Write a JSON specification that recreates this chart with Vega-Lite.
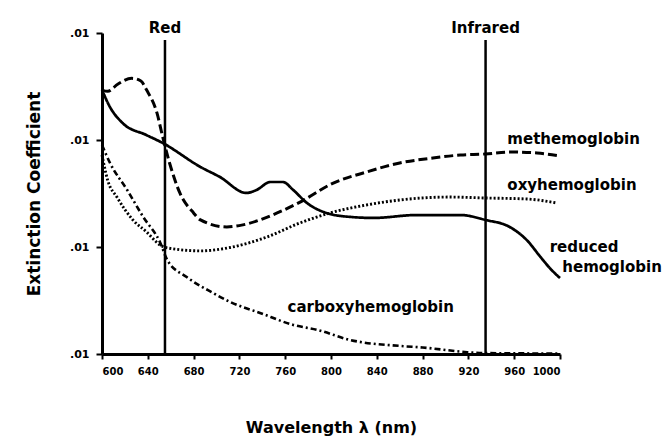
{
  "$schema": "https://vega.github.io/schema/vega-lite/v6.json",
  "width": 458,
  "height": 321,
  "autosize": {"type": "none"},
  "padding": {"left": 102, "top": 33, "right": 109, "bottom": 94},
  "background": "white",
  "config": {
    "view": {"stroke": null},
    "axis": {
      "grid": false,
      "labelFont": "DejaVu Sans", "labelFontWeight": "bold", "labelFontSize": 11, "labelColor": "#000",
      "titleFont": "DejaVu Sans", "titleFontWeight": "bold", "titleColor": "#000",
      "domainColor": "#000", "domainWidth": 3, "tickColor": "#000", "tickWidth": 2
    }
  },
  "datasets": {
    "curves": [
      {"s": "methemoglobin", "nm": 600, "v": 2.93},
      {"s": "methemoglobin", "nm": 605, "v": 2.85},
      {"s": "methemoglobin", "nm": 614, "v": 3.34},
      {"s": "methemoglobin", "nm": 626, "v": 3.77},
      {"s": "methemoglobin", "nm": 634, "v": 3.56},
      {"s": "methemoglobin", "nm": 639, "v": 2.93},
      {"s": "methemoglobin", "nm": 648, "v": 1.79},
      {"s": "methemoglobin", "nm": 653, "v": 1.07},
      {"s": "methemoglobin", "nm": 659, "v": 0.61},
      {"s": "methemoglobin", "nm": 668, "v": 0.32},
      {"s": "methemoglobin", "nm": 680, "v": 0.208},
      {"s": "methemoglobin", "nm": 686, "v": 0.179},
      {"s": "methemoglobin", "nm": 709, "v": 0.154},
      {"s": "methemoglobin", "nm": 723, "v": 0.161},
      {"s": "methemoglobin", "nm": 753, "v": 0.208},
      {"s": "methemoglobin", "nm": 773, "v": 0.263},
      {"s": "methemoglobin", "nm": 802, "v": 0.396},
      {"s": "methemoglobin", "nm": 831, "v": 0.502},
      {"s": "methemoglobin", "nm": 860, "v": 0.61},
      {"s": "methemoglobin", "nm": 889, "v": 0.679},
      {"s": "methemoglobin", "nm": 913, "v": 0.724},
      {"s": "methemoglobin", "nm": 935, "v": 0.74},
      {"s": "methemoglobin", "nm": 956, "v": 0.772},
      {"s": "methemoglobin", "nm": 980, "v": 0.756},
      {"s": "methemoglobin", "nm": 1000, "v": 0.709},
      {"s": "reduced hemoglobin", "nm": 600, "v": 2.93},
      {"s": "reduced hemoglobin", "nm": 607, "v": 2.03},
      {"s": "reduced hemoglobin", "nm": 618, "v": 1.44},
      {"s": "reduced hemoglobin", "nm": 639, "v": 1.11},
      {"s": "reduced hemoglobin", "nm": 653, "v": 0.938},
      {"s": "reduced hemoglobin", "nm": 686, "v": 0.56},
      {"s": "reduced hemoglobin", "nm": 703, "v": 0.451},
      {"s": "reduced hemoglobin", "nm": 726, "v": 0.32},
      {"s": "reduced hemoglobin", "nm": 735, "v": 0.341},
      {"s": "reduced hemoglobin", "nm": 747, "v": 0.405},
      {"s": "reduced hemoglobin", "nm": 758, "v": 0.405},
      {"s": "reduced hemoglobin", "nm": 767, "v": 0.341},
      {"s": "reduced hemoglobin", "nm": 779, "v": 0.258},
      {"s": "reduced hemoglobin", "nm": 796, "v": 0.208},
      {"s": "reduced hemoglobin", "nm": 817, "v": 0.191},
      {"s": "reduced hemoglobin", "nm": 837, "v": 0.187},
      {"s": "reduced hemoglobin", "nm": 875, "v": 0.199},
      {"s": "reduced hemoglobin", "nm": 913, "v": 0.199},
      {"s": "reduced hemoglobin", "nm": 935, "v": 0.179},
      {"s": "reduced hemoglobin", "nm": 956, "v": 0.154},
      {"s": "reduced hemoglobin", "nm": 971, "v": 0.116},
      {"s": "reduced hemoglobin", "nm": 983, "v": 0.0806},
      {"s": "reduced hemoglobin", "nm": 991, "v": 0.0637},
      {"s": "reduced hemoglobin", "nm": 1000, "v": 0.0513},
      {"s": "oxyhemoglobin", "nm": 600, "v": 0.724},
      {"s": "oxyhemoglobin", "nm": 605, "v": 0.42},
      {"s": "oxyhemoglobin", "nm": 613, "v": 0.293},
      {"s": "oxyhemoglobin", "nm": 627, "v": 0.179},
      {"s": "oxyhemoglobin", "nm": 639, "v": 0.138},
      {"s": "oxyhemoglobin", "nm": 651, "v": 0.104},
      {"s": "oxyhemoglobin", "nm": 657, "v": 0.098},
      {"s": "oxyhemoglobin", "nm": 686, "v": 0.092},
      {"s": "oxyhemoglobin", "nm": 712, "v": 0.099},
      {"s": "oxyhemoglobin", "nm": 744, "v": 0.124},
      {"s": "oxyhemoglobin", "nm": 773, "v": 0.168},
      {"s": "oxyhemoglobin", "nm": 802, "v": 0.212},
      {"s": "oxyhemoglobin", "nm": 831, "v": 0.247},
      {"s": "oxyhemoglobin", "nm": 860, "v": 0.275},
      {"s": "oxyhemoglobin", "nm": 904, "v": 0.293},
      {"s": "oxyhemoglobin", "nm": 935, "v": 0.287},
      {"s": "oxyhemoglobin", "nm": 971, "v": 0.281},
      {"s": "oxyhemoglobin", "nm": 997, "v": 0.258},
      {"s": "carboxyhemoglobin", "nm": 600, "v": 0.898},
      {"s": "carboxyhemoglobin", "nm": 607, "v": 0.61},
      {"s": "carboxyhemoglobin", "nm": 622, "v": 0.341},
      {"s": "carboxyhemoglobin", "nm": 636, "v": 0.191},
      {"s": "carboxyhemoglobin", "nm": 651, "v": 0.109},
      {"s": "carboxyhemoglobin", "nm": 657, "v": 0.0756},
      {"s": "carboxyhemoglobin", "nm": 674, "v": 0.0524},
      {"s": "carboxyhemoglobin", "nm": 697, "v": 0.0372},
      {"s": "carboxyhemoglobin", "nm": 712, "v": 0.0306},
      {"s": "carboxyhemoglobin", "nm": 738, "v": 0.0242},
      {"s": "carboxyhemoglobin", "nm": 767, "v": 0.0187},
      {"s": "carboxyhemoglobin", "nm": 788, "v": 0.0168},
      {"s": "carboxyhemoglobin", "nm": 817, "v": 0.0135},
      {"s": "carboxyhemoglobin", "nm": 860, "v": 0.0119},
      {"s": "carboxyhemoglobin", "nm": 880, "v": 0.0115},
      {"s": "carboxyhemoglobin", "nm": 919, "v": 0.0104},
      {"s": "carboxyhemoglobin", "nm": 933, "v": 0.0102},
      {"s": "carboxyhemoglobin", "nm": 1000, "v": 0.0101}
    ],
    "bands": [
      {"name": "Red", "nm": 655, "top": 8.6, "bottom": 0.01, "labelV": 10},
      {"name": "Infrared", "nm": 935, "top": 8.6, "bottom": 0.01, "labelV": 10}
    ],
    "labels": [
      {"label": "methemoglobin", "nm": 954, "v": 0.918},
      {"label": "oxyhemoglobin", "nm": 954, "v": 0.341},
      {"label": "reduced", "nm": 991, "v": 0.0898},
      {"label": "hemoglobin", "nm": 1002, "v": 0.0584},
      {"label": "carboxyhemoglobin", "nm": 762, "v": 0.0247}
    ]
  },
  "encoding": {
    "x": {
      "field": "nm", "type": "quantitative",
      "scale": {"domain": [600, 1000], "nice": false, "zero": false},
      "axis": {
        "values": [600, 640, 680, 720, 760, 800, 840, 880, 920, 960, 1000],
        "format": "d", "tickSize": 5, "labelPadding": 7, "labelFontSize": 10,
        "title": "Wavelength λ (nm)", "titleFontSize": 16,
        "titleBaseline": "alphabetic", "titleY": 78
      }
    },
    "y": {
      "field": "v", "type": "quantitative",
      "scale": {"type": "log", "domain": [0.01, 10], "nice": false},
      "axis": {
        "values": [0.01, 0.1, 1, 10], "labelExpr": "'.01'",
        "tickSize": 6, "labelPadding": 7,
        "title": "Extinction Coefficient", "titleFontSize": 17,
        "titleBaseline": "alphabetic", "titleX": -63
      }
    }
  },
  "layer": [
    {
      "data": {"name": "curves"},
      "mark": {"type": "line", "color": "#000", "interpolate": "monotone"},
      "encoding": {
        "detail": {"field": "s"},
        "strokeDash": {
          "field": "s", "type": "nominal", "legend": null,
          "scale": {
            "domain": ["methemoglobin", "oxyhemoglobin", "reduced hemoglobin", "carboxyhemoglobin"],
            "range": [[9, 4], [2, 2], [1, 0], [6, 3, 2, 3]]
          }
        },
        "strokeWidth": {
          "field": "s", "type": "nominal", "legend": null,
          "scale": {
            "domain": ["methemoglobin", "oxyhemoglobin", "reduced hemoglobin", "carboxyhemoglobin"],
            "range": [3, 2.6, 3.2, 2.6]
          }
        }
      }
    },
    {
      "data": {"name": "bands"},
      "mark": {"type": "rule", "color": "#000", "strokeWidth": 2.5},
      "encoding": {
        "y": {"field": "top", "type": "quantitative"},
        "y2": {"field": "bottom"}
      }
    },
    {
      "data": {"name": "bands"},
      "mark": {"type": "text", "font": "DejaVu Sans", "fontWeight": "bold", "fontSize": 15, "color": "#000", "align": "center", "baseline": "alphabetic"},
      "encoding": {
        "y": {"field": "labelV", "type": "quantitative"},
        "text": {"field": "name"}
      }
    },
    {
      "data": {"name": "labels"},
      "mark": {"type": "text", "font": "DejaVu Sans", "fontWeight": "bold", "fontSize": 15, "color": "#000", "align": "left", "baseline": "alphabetic"},
      "encoding": {
        "text": {"field": "label"}
      }
    }
  ]
}
